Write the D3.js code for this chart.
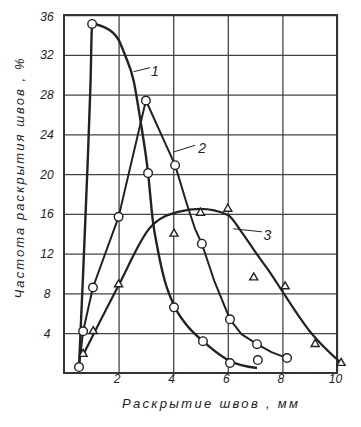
<!DOCTYPE html>
<html>
<head>
<meta charset="utf-8">
<script src="https://cdn.jsdelivr.net/npm/d3@7"></script>
<style>
  html, body { margin: 0; padding: 0; background: #fff; }
  svg { display: block; }
  text { font-family: "Liberation Sans Narrow", "Liberation Sans", "DejaVu Sans", sans-serif; font-style: italic; fill: #222; }
</style>
</head>
<body>
<svg id="chart" width="361" height="427"></svg>
<script>
// ---- data ----
const xTickValues = [2, 4, 6, 8, 10];
const yTickValues = [4, 8, 12, 16, 20, 24, 28, 32, 36];
const xTitle = "Раскрытие швов , мм";
const yTitle = "Частота раскрытия швов , %";

// curve 1 (circles): fitted line and observed points
const curve1Line = [[0.55,0.6],[0.7,10],[0.85,20],[0.97,29],[1.03,35.1],[1.45,34.8],[1.8,34.2],[2.0,33.5],[2.23,32],[2.55,29.4],[2.8,25.4],[3.08,20.1],[3.25,15.4],[3.45,12.2],[3.7,9.2],[4.03,6.8],[4.5,4.8],[5.09,3.2],[6.08,1.2],[7.07,0.5]];
const curve1Points = [[0.55,0.6],[1.03,35.1],[3.08,20.1],[4.03,6.6],[5.09,3.2],[6.08,1.0],[7.1,1.3]];

// curve 2 (circles)
const curve2Line = [[0.55,0.6],[0.7,4.2],[1.06,8.6],[2.0,15.7],[3.0,27.4],[4.07,20.9],[4.5,17.0],[4.8,14.5],[5.05,13.0],[5.5,9.3],[6.08,5.4],[6.5,3.9],[7.07,2.9],[7.6,2.1],[8.17,1.5]];
const curve2Points = [[0.7,4.2],[1.06,8.6],[2.0,15.7],[3.0,27.4],[4.07,20.9],[5.05,13.0],[6.08,5.4],[7.07,2.9],[8.17,1.5]];

// curve 3 (triangles)
const curve3Line = [[0.7,1.8],[1.1,4.0],[2.0,8.8],[3.15,14.6],[4.18,16.2],[5.0,16.5],[6.0,15.9],[6.5,14.2],[7.05,12.0],[7.55,10.1],[8.0,8.2],[9.0,4.2],[10.15,1.0]];
const curve3Points = [[0.7,1.8],[1.07,4.1],[2.0,8.8],[4.03,13.9],[5.0,16.0],[6.0,16.4],[6.95,9.5],[8.1,8.6],[9.2,2.8],[10.15,0.9]];

// curve labels with leader lines (data coordinates)
const curveLabels = [
  {text: "1", from: [2.55,30.3], to: [3.15,30.7], at: [3.33,30.4]},
  {text: "2", from: [3.99,22.2], to: [4.8,22.9], at: [5.06,22.6]},
  {text: "3", from: [6.2,14.5], to: [7.25,14.2], at: [7.45,13.9]}
];

// ---- layout ----
const svg = d3.select("#chart");
const m = {left: 64, right: 24, top: 15, bottom: 54};
const W = 361, H = 427;
const x = d3.scaleLinear().domain([0, 10]).range([m.left, W - m.right]);
const y = d3.scaleLinear().domain([0, 36]).range([H - m.bottom, m.top]);
const ink = "#222";

// grid via axes
const gx = svg.append("g").attr("transform", `translate(0,${y(0)})`)
  .call(d3.axisBottom(x).tickValues(xTickValues).tickSize(-(y(0) - y(36))).tickPadding(6).tickFormat(d3.format("d")));
gx.select(".domain").remove();
gx.selectAll(".tick line").attr("stroke", "#444").attr("stroke-width", 1.3);
gx.selectAll(".tick text").attr("font-size", 12).attr("fill", ink).attr("dx", -2).attr("dy", 4);

const gy = svg.append("g").attr("transform", `translate(${x(0)},0)`)
  .call(d3.axisLeft(y).tickValues(yTickValues).tickSize(-(x(10) - x(0))).tickPadding(12).tickFormat(d3.format("d")));
gy.select(".domain").remove();
gy.selectAll(".tick line").attr("stroke", "#444").attr("stroke-width", 1.3);
gy.selectAll(".tick text").attr("font-size", 12).attr("fill", ink).attr("text-anchor", "middle").attr("dx", -5).attr("dy", d => d === 36 ? 5 : 4);

// frame
svg.append("rect")
  .attr("x", x(0)).attr("y", y(36))
  .attr("width", x(10) - x(0)).attr("height", y(0) - y(36))
  .attr("fill", "none").attr("stroke", "#333").attr("stroke-width", 2);

// curves
const lineSmooth = d3.line().x(d => x(d[0])).y(d => y(d[1])).curve(d3.curveMonotoneX);
const lineStraight = d3.line().x(d => x(d[0])).y(d => y(d[1])).curve(d3.curveLinear);

svg.append("path").datum(curve1Line).attr("d", lineSmooth)
  .attr("fill", "none").attr("stroke", ink).attr("stroke-width", 2.4).attr("stroke-linejoin", "round");
svg.append("path").datum(curve2Line).attr("d", lineStraight)
  .attr("fill", "none").attr("stroke", ink).attr("stroke-width", 2).attr("stroke-linejoin", "round");
svg.append("path").datum(curve3Line).attr("d", lineSmooth)
  .attr("fill", "none").attr("stroke", ink).attr("stroke-width", 2.2).attr("stroke-linejoin", "round");

// markers
const circ = curve1Points.concat(curve2Points);
svg.append("g").selectAll("circle").data(circ).join("circle")
  .attr("cx", d => x(d[0])).attr("cy", d => y(d[1])).attr("r", 4.3)
  .attr("fill", "#fff").attr("stroke", ink).attr("stroke-width", 1.4);

const tri = d3.symbol().type(d3.symbolTriangle).size(28);
svg.append("g").selectAll("path").data(curve3Points).join("path")
  .attr("d", tri)
  .attr("transform", d => `translate(${x(d[0])},${y(d[1]) - 1})`)
  .attr("fill", "#fff").attr("stroke", ink).attr("stroke-width", 1.4);

// curve labels
curveLabels.forEach(l => {
  svg.append("line")
    .attr("x1", x(l.from[0])).attr("y1", y(l.from[1]))
    .attr("x2", x(l.to[0])).attr("y2", y(l.to[1]))
    .attr("stroke", ink).attr("stroke-width", 1);
  svg.append("text").attr("x", x(l.at[0])).attr("y", y(l.at[1]))
    .attr("dy", "0.35em").attr("text-anchor", "middle")
    .attr("font-size", 14).text(l.text);
});

// axis titles
svg.append("text")
  .attr("transform", `translate(24,${(57 + 300) / 2}) rotate(-90)`)
  .attr("text-anchor", "middle").attr("font-size", 13)
  .attr("textLength", 240).attr("lengthAdjust", "spacing")
  .text(yTitle);

svg.append("text")
  .attr("x", 210).attr("y", 408)
  .attr("text-anchor", "middle").attr("font-size", 13)
  .attr("textLength", 176).attr("lengthAdjust", "spacing")
  .text(xTitle);
</script>
</body>
</html>
